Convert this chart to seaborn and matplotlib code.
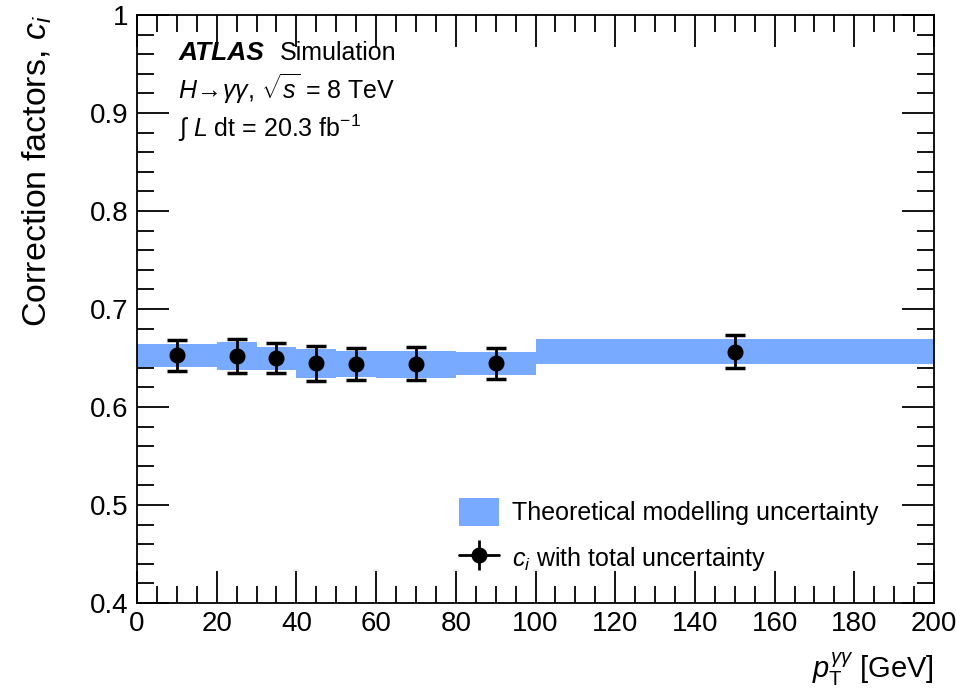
import numpy as np
import matplotlib
matplotlib.use("Agg")
import matplotlib.pyplot as plt
import seaborn as sns
from matplotlib.patches import Patch
from matplotlib.lines import Line2D
from matplotlib.legend_handler import HandlerTuple
from matplotlib.ticker import MultipleLocator

# bins in pT (GeV)
bin_lo = [0, 20, 30, 40, 50, 60, 80, 100]
bin_hi = [20, 30, 40, 50, 60, 80, 100, 200]
# theory band (low / high edge)
band_lo = [0.6405, 0.6378, 0.6378, 0.6300, 0.6310, 0.6300, 0.6323, 0.6436]
band_hi = [0.6643, 0.6660, 0.6616, 0.6592, 0.6568, 0.6568, 0.6561, 0.6694]
# correction factors c_i with total uncertainty
pt_pts = [10, 25, 35, 45, 55, 70, 90, 150]
ci = [0.6530, 0.6524, 0.6497, 0.6452, 0.6439, 0.6439, 0.6446, 0.6565]
ci_up = [0.6684, 0.6694, 0.6653, 0.6626, 0.6602, 0.6610, 0.6605, 0.6735]
ci_dn = [0.6370, 0.6350, 0.6344, 0.6268, 0.6272, 0.6272, 0.6286, 0.6400]

sns.set_style("ticks")
plt.rcParams['font.family'] = ['Liberation Sans', 'DejaVu Sans']
plt.rcParams['mathtext.fontset'] = 'custom'
plt.rcParams['mathtext.rm'] = 'Liberation Sans'
plt.rcParams['mathtext.it'] = 'Liberation Sans:italic'
plt.rcParams['mathtext.bf'] = 'Liberation Sans:bold'
plt.rcParams['text.color'] = 'black'
plt.rcParams['axes.labelcolor'] = 'black'
plt.rcParams['xtick.color'] = 'black'
plt.rcParams['ytick.color'] = 'black'

fig = plt.figure(figsize=(9.56, 7.0), dpi=100)
ax = fig.add_axes([137/956, 97/700, 797/956, 588/700])

blue = '#78aaff'
lo = np.array(bin_lo)
hi = np.array(bin_hi)
blo = np.array(band_lo)
bhi = np.array(band_hi)
ax.bar(lo, bhi - blo, width=hi - lo, bottom=blo, align='edge',
       color=blue, linewidth=0, zorder=1)

c = np.array(ci)
yerr = [c - np.array(ci_dn), np.array(ci_up) - c]
ax.errorbar(pt_pts, ci, yerr=yerr, fmt='o', color='black', ms=10.5,
            elinewidth=2, capsize=7.5, capthick=2.5, zorder=3)

ax.set_xlim(0, 200)
ax.set_ylim(0.4, 1.0)
ax.xaxis.set_major_locator(MultipleLocator(20))
ax.xaxis.set_minor_locator(MultipleLocator(5))
ax.yaxis.set_minor_locator(MultipleLocator(0.02))
ax.set_yticks([0.4, 0.5, 0.6, 0.7, 0.8, 0.9, 1.0])
ax.set_yticklabels(['0.4', '0.5', '0.6', '0.7', '0.8', '0.9', '1'])
ax.tick_params(which='both', direction='in', top=True, right=True,
               labelsize=20, width=1.3, color='black', labelcolor='black')
ax.tick_params(which='major', length=23, pad=6)
ax.tick_params(which='minor', length=12)
for s in ax.spines.values():
    s.set_linewidth(1.3)
    s.set_color('black')

ax.set_xlabel(r'$p_{\mathrm{T}}^{\gamma\gamma}$ [GeV]', fontsize=21, loc='right', labelpad=10)
ax.set_ylabel(r'Correction factors, $c_i$', fontsize=24.5, loc='top', labelpad=26)

ax.text(0.052, 0.935, 'ATLAS', transform=ax.transAxes, fontsize=19,
        fontweight='bold', fontstyle='italic', va='center')
ax.text(0.179, 0.935, 'Simulation', transform=ax.transAxes, fontsize=18, va='center')
ax.text(0.052, 0.874, r'$H\!\rightarrow\!\gamma\gamma$, $\sqrt{s}$ = 8 TeV',
        transform=ax.transAxes, fontsize=18, va='center')
ax.text(0.052, 0.808, r'$\int$ $L$ dt = 20.3 fb$^{-1}$',
        transform=ax.transAxes, fontsize=18, va='center')

h_band = Patch(facecolor=blue, edgecolor='none')
h_line = Line2D([], [], color='black', lw=2, marker='o', ms=10.5)
h_vbar = Line2D([], [], color='black', lw=0, marker='|', ms=22, mew=2)
ax.legend([h_band, (h_line, h_vbar)], ['Theoretical modelling uncertainty',
                                       r'$c_i$ with total uncertainty'],
          handler_map={tuple: HandlerTuple(ndivide=1)},
          loc='upper left', bbox_to_anchor=(0.392, 0.195), frameon=False,
          fontsize=18, handlelength=1.6, handleheight=1.3,
          handletextpad=0.52, labelspacing=0.75, borderaxespad=0)

fig.savefig('out.png', dpi=100)
